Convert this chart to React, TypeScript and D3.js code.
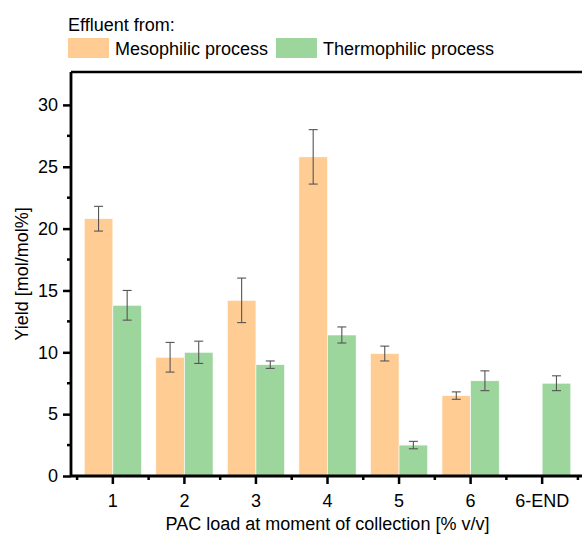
import React, { useRef, useEffect } from "react";
import * as d3 from "d3";

// categories on the x axis (PAC load)
const categories = ["1", "2", "3", "4", "5", "6", "6-END"];
const seriesNames = ["Mesophilic process", "Thermophilic process"];

// yields [mol/mol%], null = no bar
const mesoValues = [20.8, 9.6, 14.2, 25.8, 9.9, 6.5, null];
const mesoErrors = [1.0, 1.2, 1.8, 2.2, 0.6, 0.3, null];
const thermoValues = [13.8, 10.0, 9.0, 11.4, 2.5, 7.7, 7.5];
const thermoErrors = [1.2, 0.9, 0.3, 0.65, 0.3, 0.8, 0.6];

const yTicks = [0, 5, 10, 15, 20, 25, 30];
const yMinorTicks = [2.5, 7.5, 12.5, 17.5, 22.5, 27.5];

const colors = ["#FFCD94", "#9DD69D"];
const FONT = "Arial, 'Liberation Sans', sans-serif";

export default function App() {
  const svgRef = useRef<SVGSVGElement | null>(null);

  useEffect(() => {
    const svg = d3.select(svgRef.current);
    svg.selectAll("*").remove();

    const width = 582;
    const height = 535;
    const left = 71;
    const right = 584; // frame continues just past the picture edge
    const top = 72;
    const bottom = 476;

    const x = d3
      .scaleBand()
      .domain(categories)
      .range([left, right])
      .paddingInner(0)
      .paddingOuter(0.085);
    const step = x.step();

    const sub = d3
      .scaleBand()
      .domain(seriesNames)
      .range([step * 0.1, step * 0.9])
      .padding(0);

    const y = d3.scaleLinear().domain([0, 32.66]).range([bottom, top]);

    const rows = categories.map((c, i) => ({
      cat: c,
      vals: [
        { name: seriesNames[0], v: mesoValues[i], e: mesoErrors[i], color: colors[0] },
        { name: seriesNames[1], v: thermoValues[i], e: thermoErrors[i], color: colors[1] },
      ].filter((d) => d.v !== null),
    }));

    // bars
    const groups = svg
      .append("g")
      .selectAll("g")
      .data(rows)
      .enter()
      .append("g")
      .attr("transform", (d) => `translate(${x(d.cat)},0)`);

    groups
      .selectAll("rect")
      .data((d) => d.vals)
      .enter()
      .append("rect")
      .attr("x", (d) => sub(d.name)!)
      .attr("y", (d) => y(d.v as number))
      .attr("width", sub.bandwidth())
      .attr("height", (d) => bottom - y(d.v as number))
      .attr("fill", (d) => d.color)
      .attr("stroke", "#ffffff")
      .attr("stroke-width", 0.6);

    // error bars
    const err = groups
      .selectAll("g.err")
      .data((d) => d.vals)
      .enter()
      .append("g")
      .attr("class", "err")
      .attr("stroke", "#555")
      .attr("stroke-width", 1.1);
    const cx = (d: any) => sub(d.name)! + sub.bandwidth() / 2;
    err
      .append("line")
      .attr("x1", cx)
      .attr("x2", cx)
      .attr("y1", (d) => y((d.v as number) - (d.e as number)))
      .attr("y2", (d) => y((d.v as number) + (d.e as number)));
    [-1, 1].forEach((s) => {
      err
        .append("line")
        .attr("x1", (d) => cx(d) - 4.5)
        .attr("x2", (d) => cx(d) + 4.5)
        .attr("y1", (d) => y((d.v as number) + s * (d.e as number)))
        .attr("y2", (d) => y((d.v as number) + s * (d.e as number)));
    });

    // frame (top + right)
    svg
      .append("path")
      .attr("d", `M${left},${top}H${right}V${bottom}`)
      .attr("fill", "none")
      .attr("stroke", "#000")
      .attr("stroke-width", 2.5);

    // y axis
    const yAxis = svg
      .append("g")
      .attr("transform", `translate(${left},0)`)
      .call(
        d3
          .axisLeft(y)
          .tickValues(yTicks)
          .tickSize(8)
          .tickPadding(5)
          .tickFormat(d3.format("d"))
      );
    yAxis
      .selectAll(".tick")
      .data(yMinorTicks)
      .enter();
    yAxis
      .append("g")
      .selectAll("line")
      .data(yMinorTicks)
      .enter()
      .append("line")
      .attr("x1", -4)
      .attr("x2", 0)
      .attr("y1", (d) => y(d))
      .attr("y2", (d) => y(d))
      .attr("stroke", "#000")
      .attr("stroke-width", 2.5);
    yAxis.select(".domain").attr("d", `M0,${top}V${bottom}`);

    // x axis
    const xAxis = svg
      .append("g")
      .attr("transform", `translate(0,${bottom})`)
      .call(d3.axisBottom(x).tickSize(8).tickPadding(10).tickSizeOuter(0));
    xAxis
      .append("g")
      .selectAll("line")
      .data(categories.concat(["end"]))
      .enter()
      .append("line")
      .attr("x1", (d, i) => x(categories[0])! + i * step)
      .attr("x2", (d, i) => x(categories[0])! + i * step)
      .attr("y1", 0)
      .attr("y2", 4)
      .attr("stroke", "#000")
      .attr("stroke-width", 2.5);
    xAxis.select(".domain").attr("d", `M${left},0H${right}`);

    [yAxis, xAxis].forEach((a) => {
      a.select(".domain").attr("stroke-width", 2.8).attr("stroke", "#000");
      a.selectAll(".tick line").attr("stroke-width", 2.5).attr("stroke", "#000");
      a.selectAll(".tick text")
        .attr("font-family", FONT)
        .attr("font-size", 18)
        .attr("fill", "#000");
    });

    // axis titles
    svg
      .append("text")
      .attr("x", (left + right) / 2)
      .attr("y", 530)
      .attr("text-anchor", "middle")
      .attr("font-family", FONT)
      .attr("font-size", 18)
      .text("PAC load at moment of collection [% v/v]");
    svg
      .append("text")
      .attr("transform", `translate(28,${(top + bottom) / 2}) rotate(-90)`)
      .attr("text-anchor", "middle")
      .attr("font-family", FONT)
      .attr("font-size", 18)
      .text("Yield [mol/mol%]");

    // legend
    const legend = svg.append("g").attr("font-family", FONT).attr("font-size", 18);
    legend.append("text").attr("x", 68).attr("y", 31).text("Effluent from:");
    const legendX = [68, 276];
    seriesNames.forEach((name, i) => {
      legend
        .append("rect")
        .attr("x", legendX[i])
        .attr("y", 38)
        .attr("width", 41)
        .attr("height", 20)
        .attr("fill", colors[i]);
      legend
        .append("text")
        .attr("x", legendX[i] + 47)
        .attr("y", 55)
        .text(name);
    });

    svg.attr("width", width).attr("height", height);
  }, []);

  return (
    <svg
      ref={svgRef}
      width={582}
      height={535}
      style={{ position: "absolute", left: 0, top: 0, background: "#fff", display: "block" }}
    ></svg>
  );
}
